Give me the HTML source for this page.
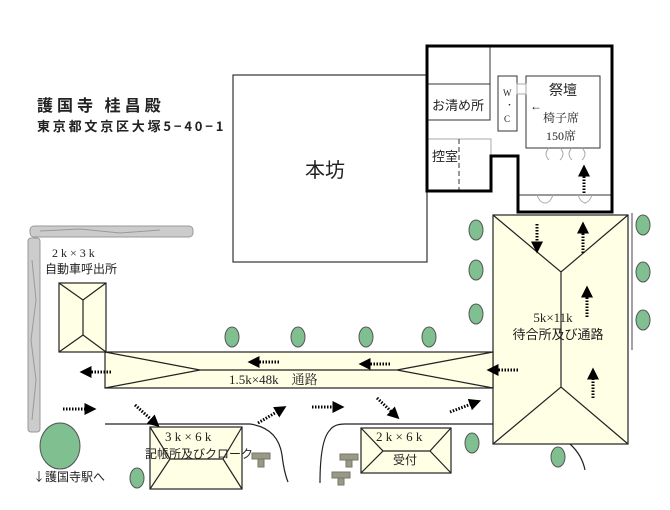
<!DOCTYPE html>
<html><head><meta charset="utf-8"><style>
html,body{margin:0;padding:0;background:#fff;}
svg{display:block;}
text{font-family:"Liberation Serif","Noto Serif CJK SC","Noto Sans CJK JP",serif;fill:#222;}
</style></head><body>
<svg width="670" height="510" viewBox="0 0 670 510" xmlns="http://www.w3.org/2000/svg">
<defs>
<marker id="ah" markerWidth="4" markerHeight="4" refX="1.5" refY="2" orient="auto" markerUnits="strokeWidth">
<path d="M0,0 L4,2 L0,4 Z" fill="#000"/>
</marker>
</defs>
<!-- title -->
<text x="37" y="111" font-size="16" font-weight="bold" letter-spacing="4" style="font-family:'Noto Sans CJK JP',sans-serif" fill="#000">護国寺 桂昌殿</text>
<text x="37" y="131" font-size="13" font-weight="bold" letter-spacing="2.8" style="font-family:'Noto Sans CJK JP',sans-serif" fill="#000">東京都文京区大塚5−40−1</text>

<!-- stone wall -->
<rect x="30" y="226" width="163" height="11" rx="4" fill="#ccc" stroke="#999"/>
<rect x="28" y="238" width="12" height="194" rx="3" fill="#ccc" stroke="#999"/>
<path d="M40,231 L80,229 L120,233 L160,230 M32,260 L36,300 L31,340 L36,380 L32,420" stroke="#999" fill="none"/>

<!-- honbo -->
<rect x="233" y="75" width="194" height="187" fill="#fff" stroke="#333" stroke-width="1.2"/>
<text x="305" y="177" font-size="20" style="font-family:'Noto Sans CJK JP',sans-serif">本坊</text>

<!-- main building -->
<g stroke="#333" fill="none">
<line x1="427" y1="84" x2="490" y2="84"/>
<line x1="490" y1="46" x2="490" y2="84"/>
<rect x="427" y="84" width="63" height="36"/>
<rect x="427" y="139" width="64" height="52" stroke="#aaa"/>
<line x1="459" y1="139" x2="459" y2="191" stroke-dasharray="5,3"/>
<rect x="498" y="76" width="19" height="55"/>
<rect x="526" y="76" width="74" height="72"/>
<line x1="518" y1="195" x2="612" y2="195"/>
<path d="M517,84 h9 v10 h-9 z" stroke="#aaa"/>
<path d="M549,148 q-6,6 0,12 M560,148 q6,6 0,12 M572,148 q-6,6 0,12 M582,148 q6,6 0,12" stroke="#aaa"/>
<path d="M537,195 q3,8 8,8 M553,195 q-3,8 -8,8 M578,195 q3,8 8,8 M592,195 q-3,8 -8,8" stroke="#aaa"/>
</g>
<path d="M427,46 H612 V212 H518 V156 H491 V191 H427 Z" fill="none" stroke="#000" stroke-width="3"/>
<text x="432" y="110" font-size="13" style="font-family:'Noto Sans CJK JP',sans-serif">お清め所</text>
<text x="432" y="161" font-size="13" style="font-family:'Noto Sans CJK JP',sans-serif">控室</text>
<text x="503" y="96" font-size="9">W</text>
<text x="505" y="108" font-size="9">・</text>
<text x="504" y="122" font-size="9">C</text>
<text x="549" y="95" font-size="14" style="font-family:'Noto Sans CJK JP',sans-serif">祭壇</text>
<text x="530" y="110" font-size="12">←</text>
<text x="543" y="122" font-size="12">椅子席</text>
<text x="546" y="140" font-size="12">150席</text>

<!-- big waiting building -->
<g stroke="#222" stroke-width="1.2" fill="#ffffe6">
<rect x="493" y="215" width="135" height="229"/>
<path d="M493,215 L561,272 L628,215 M561,272 V387 M493,444 L561,387 L628,444" fill="none"/>
</g>
<line x1="632" y1="213" x2="632" y2="350" stroke="#444"/>
<text x="553" y="322" font-size="13" text-anchor="middle">5k×11k</text>
<text x="558" y="339" font-size="13" text-anchor="middle" style="font-family:'Noto Sans CJK JP',sans-serif">待合所及び通路</text>

<!-- passage -->
<g stroke="#222" stroke-width="1.2" fill="#ffffe6">
<rect x="105" y="352" width="388" height="36"/>
<path d="M105,352 L200,370 L105,388 M493,352 L397,370 L493,388 M200,370 H397" fill="none"/>
<rect x="59" y="283" width="47" height="69"/>
<path d="M59,283 L83,300 L106,283 M83,300 V335 M59,352 L83,335 L106,352" fill="none"/>
</g>
<text x="229" y="384" font-size="13">1.5k×48k　通路</text>
<text x="52" y="257" font-size="12">2 k × 3 k</text>
<text x="45" y="273" font-size="12" style="font-family:'Noto Sans CJK JP',sans-serif">自動車呼出所</text>

<!-- roads -->
<g stroke="#222" fill="none" stroke-width="1.2">
<path d="M105,424 H250 Q278,428 282,455 Q284,472 288,482"/>
<path d="M320,483 Q320,440 330,430 Q334,424 345,424 H493"/>
<path d="M570,444 Q582,455 585,470"/>
</g>

<!-- bottom buildings -->
<g stroke="#222" stroke-width="1.2" fill="#ffffe6">
<rect x="150" y="427" width="92" height="62"/>
<path d="M150,427 L170,459 L150,489 M242,427 L223,459 L242,489 M170,459 H223" fill="none"/>
<rect x="361" y="428" width="90" height="45"/>
<path d="M361,428 L383,451 L361,473 M451,428 L430,451 L451,473 M383,451 H430" fill="none"/>
</g>
<text x="165" y="441" font-size="13">3 k × 6 k</text>
<text x="145" y="458" font-size="12" style="font-family:'Noto Sans CJK JP',sans-serif">記帳所及びクローク</text>
<text x="376" y="441" font-size="13">2 k × 6 k</text>
<text x="393" y="464" font-size="12" style="font-family:'Noto Sans CJK JP',sans-serif">受付</text>
<text x="33" y="481" font-size="12" style="font-family:'Noto Sans CJK JP',sans-serif">↓護国寺駅へ</text>

<!-- trees -->
<g fill="#7fbf90" stroke="#555" stroke-width="1">
<ellipse cx="476" cy="230" rx="7" ry="10"/>
<ellipse cx="476" cy="270" rx="7" ry="10"/>
<ellipse cx="476" cy="314" rx="7" ry="10"/>
<ellipse cx="643" cy="225" rx="7" ry="10"/>
<ellipse cx="643" cy="272" rx="7" ry="10"/>
<ellipse cx="643" cy="320" rx="7" ry="10"/>
<ellipse cx="232" cy="337" rx="7" ry="10"/>
<ellipse cx="298" cy="337" rx="7" ry="10"/>
<ellipse cx="366" cy="337" rx="7" ry="10"/>
<ellipse cx="429" cy="337" rx="7" ry="10"/>
<ellipse cx="472" cy="443" rx="7" ry="10"/>
<ellipse cx="558" cy="457" rx="7" ry="10"/>
<ellipse cx="137" cy="478" rx="7" ry="10"/>
<ellipse cx="60" cy="446" rx="20" ry="23"/>
</g>
<g fill="#998" stroke="#776">
<rect x="252" y="453" width="18" height="6"/><rect x="258" y="459" width="6" height="8"/>
<rect x="340" y="454" width="18" height="6"/><rect x="346" y="460" width="6" height="7"/>
<rect x="332" y="472" width="18" height="6"/><rect x="338" y="478" width="6" height="7"/>
</g>

<!-- arrows -->
<g stroke="#000" stroke-width="3" stroke-dasharray="1.5,1.5" fill="none" marker-end="url(#ah)">
<line x1="584" y1="193" x2="584" y2="172"/>
<line x1="537" y1="224" x2="537" y2="246"/>
<line x1="583" y1="253" x2="583" y2="229"/>
<line x1="587" y1="317" x2="587" y2="293"/>
<line x1="593" y1="398" x2="593" y2="375"/>
<line x1="518" y1="370" x2="494" y2="370"/>
<line x1="390" y1="364" x2="366" y2="364"/>
<line x1="279" y1="362" x2="255" y2="362"/>
<line x1="111" y1="372" x2="87" y2="372"/>
<line x1="63" y1="409" x2="89" y2="409"/>
<line x1="135" y1="405" x2="154" y2="422"/>
<line x1="258" y1="423" x2="280" y2="410"/>
<line x1="312" y1="407" x2="337" y2="407"/>
<line x1="377" y1="398" x2="394" y2="414"/>
<line x1="450" y1="412" x2="474" y2="403"/>
</g>
</svg>
</body></html>
